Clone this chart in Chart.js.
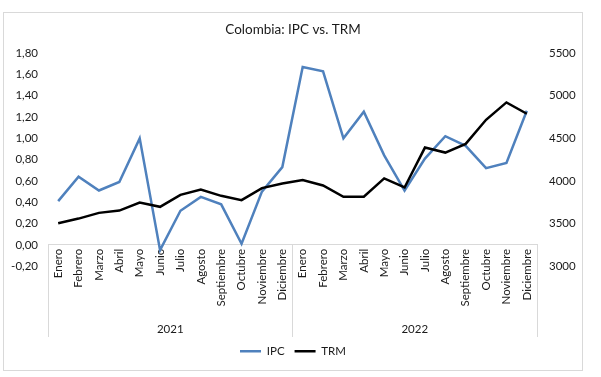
<!DOCTYPE html>
<html>
<head>
<meta charset="utf-8">
<script src="https://cdn.jsdelivr.net/npm/chart.js@4.4.0/dist/chart.umd.min.js"></script>
<style>
  html, body { margin: 0; padding: 0; background: #fff; }
  #frame { position: absolute; left: 3px; top: 12px; width: 578px; height: 357px; border: 1px solid #d9d9d9; }
  canvas { display: block; }
</style>
</head>
<body>
<div id="frame"><canvas id="chart" width="578" height="357"></canvas></div>
<script>
const months = ['Enero', 'Febrero', 'Marzo', 'Abril', 'Mayo', 'Junio', 'Julio', 'Agosto',
  'Septiembre', 'Octubre', 'Noviembre', 'Diciembre']
const years = ['2021', '2022']
const labels = months.concat(months)

// variación mensual IPC (%)
const ipc = [0.41, 0.64, 0.51, 0.59, 1.00, -0.05, 0.32, 0.45, 0.38, 0.01, 0.50, 0.73,
  1.67, 1.63, 1.00, 1.25, 0.84, 0.51, 0.81, 1.02, 0.93, 0.72, 0.77, 1.26]
// TRM (COP por USD)
const trm = [3503, 3558, 3625, 3652, 3747, 3696, 3837, 3900, 3825, 3775, 3916, 3971,
  4010, 3947, 3814, 3814, 4030, 3923, 4392, 4333, 4435, 4718, 4922, 4789]

const fontFamily = 'Lato'
const axisGray = '#d9d9d9'
const textColor = '#1a1a1a'
const tickFont = { family: fontFamily, size: 11.5 }

new Chart(document.getElementById('chart'), {
  type: 'line',
  data: {
    labels: labels,
    datasets: [
      {
        label: 'IPC',
        data: ipc,
        yAxisID: 'y',
        xAxisID: 'x',
        borderColor: '#4f81bd',
        backgroundColor: '#4f81bd',
        borderWidth: 2.5,
        pointRadius: 0,
        tension: 0,
        order: 1,
      },
      {
        label: 'TRM',
        data: trm,
        yAxisID: 'y1',
        xAxisID: 'x',
        borderColor: '#000000',
        backgroundColor: '#000000',
        borderWidth: 2.5,
        pointRadius: 0,
        tension: 0,
        order: 0,
      },
    ],
  },
  options: {
    responsive: false,
    animation: false,
    layout: { padding: { top: 0, bottom: 3, left: 0, right: 0 } },
    plugins: {
      tooltip: { enabled: false },
      title: {
        display: true,
        text: 'Colombia: IPC vs. TRM',
        color: textColor,
        font: { family: fontFamily, size: 13.5, weight: 'normal' },
        padding: { top: 9, bottom: 15 },
      },
      legend: {
        position: 'bottom',
        title: { display: true, text: '', padding: { top: 55, bottom: 0 } },
        labels: {
          usePointStyle: true,
          pointStyle: 'line',
          pointStyleWidth: 21,
          padding: 10,
          color: textColor,
          font: tickFont,
          sort: (a, b) => a.datasetIndex - b.datasetIndex,
        },
      },
    },
    scales: {
      x: {
        axis: 'x',
        position: { y: 0 },
        offset: true,
        grid: { display: false, drawTicks: false },
        border: { display: true, color: axisGray, width: 1 },
        ticks: {
          autoSkip: false,
          minRotation: 90,
          maxRotation: 90,
          padding: 4,
          color: textColor,
          font: tickFont,
        },
      },
      x2: {
        type: 'category',
        axis: 'x',
        labels: years,
        position: { y: 0 },
        offset: true,
        grid: {
          display: true,
          offset: true,
          drawOnChartArea: false,
          drawTicks: true,
          tickLength: 92,
          color: axisGray,
        },
        border: { display: false },
        ticks: { padding: -14, maxRotation: 0, color: textColor, font: tickFont },
      },
      y: {
        position: 'left',
        min: -0.2,
        max: 1.8,
        grid: { display: false, drawTicks: false },
        border: { display: false },
        ticks: {
          stepSize: 0.2,
          padding: 10,
          color: textColor,
          font: tickFont,
          callback: (v) => (Math.round(v * 100) / 100).toFixed(2).replace('.', ','),
        },
        afterFit: (s) => { s.width = 44 },
      },
      y1: {
        position: 'right',
        min: 3000,
        max: 5500,
        grid: { display: false, drawTicks: false },
        border: { display: false },
        ticks: {
          stepSize: 500,
          padding: 12,
          color: textColor,
          font: tickFont,
          callback: (v) => String(v),
        },
        afterFit: (s) => { s.width = 45 },
      },
    },
  },
})
</script>
</body>
</html>
